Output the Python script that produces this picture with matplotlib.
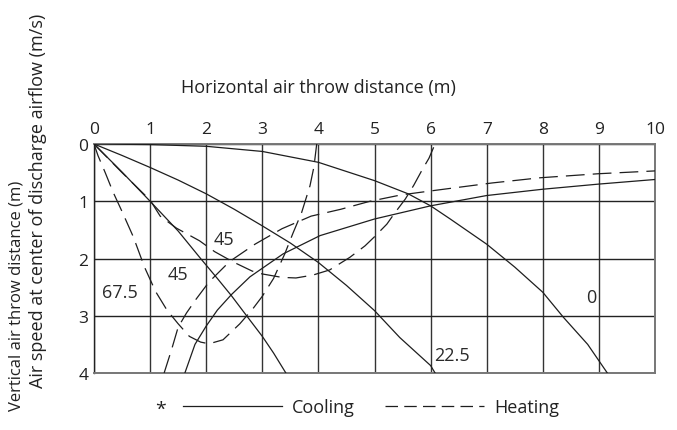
import matplotlib
matplotlib.use("Agg")
import matplotlib.pyplot as plt
from matplotlib.lines import Line2D

plt.rcParams['font.family'] = ['Open Sans', 'DejaVu Sans']

# Horizontal throw (m) vs vertical drop (m) for each louver angle
cool_0_x = [0, 1, 2, 3, 4, 5, 5.6, 6, 6.35, 7, 7.5, 8, 8.37, 8.8, 9.15]
cool_0_y = [0, 0.01, 0.04, 0.13, 0.32, 0.64, 0.87, 1.08, 1.31, 1.75, 2.15, 2.59, 3.03, 3.5, 4.0]

cool_22_x = [0, 0.5, 1, 1.5, 2, 2.5, 3, 3.5, 4, 4.5, 5, 5.45, 6, 6.08]
cool_22_y = [0, 0.2, 0.41, 0.63, 0.87, 1.14, 1.43, 1.73, 2.07, 2.47, 2.91, 3.38, 3.87, 4.0]

cool_45_x = [0, 0.5, 1, 1.5, 1.9, 2.2, 2.45, 2.72, 3.0, 3.2, 3.42]
cool_45_y = [0, 0.49, 1.0, 1.52, 2.0, 2.35, 2.65, 3.0, 3.36, 3.65, 4.0]

heat_45_x = [0, 0.5, 1, 1.18, 1.47, 1.88, 2.15, 2.48, 2.82, 3.0, 3.35, 3.6, 3.9, 4.2, 4.56, 4.83, 5.0, 5.22, 5.35, 5.55, 5.7, 5.85, 5.97, 6.08]
heat_45_y = [0, 0.5, 0.98, 1.26, 1.47, 1.69, 1.88, 2.06, 2.22, 2.27, 2.33, 2.34, 2.29, 2.2, 1.98, 1.78, 1.62, 1.4, 1.22, 0.96, 0.72, 0.45, 0.25, 0.0]

heat_67_x = [0, 0.07, 0.2, 0.34, 0.5, 0.7, 0.9, 1.1, 1.3, 1.5, 1.7, 1.9, 2.05, 2.3, 2.6, 2.83, 3.0, 3.2, 3.4, 3.55, 3.7, 3.85, 3.92, 3.97]
heat_67_y = [0, 0.2, 0.5, 0.84, 1.18, 1.62, 2.15, 2.58, 2.9, 3.14, 3.36, 3.46, 3.49, 3.42, 3.14, 2.88, 2.66, 2.35, 1.92, 1.55, 1.2, 0.73, 0.4, 0.0]

# Air speed at the centre of the discharge airflow (m/s) vs distance (m)
speed_cool_x = [1.62, 1.8, 2.0, 2.2, 2.45, 2.78, 3.37, 4.03, 5.0, 6.0, 7.0, 8.0, 9.0, 10.0]
speed_cool_y = [4.0, 3.5, 3.18, 2.9, 2.63, 2.32, 1.92, 1.6, 1.31, 1.08, 0.9, 0.79, 0.7, 0.62]

speed_heat_x = [1.25, 1.38, 1.5, 1.65, 1.82, 2.05, 2.42, 2.87, 3.35, 3.87, 4.4, 4.92, 5.47, 6.0, 7.1, 7.95, 8.98, 10.0]
speed_heat_y = [4.0, 3.6, 3.2, 2.95, 2.71, 2.41, 2.05, 1.75, 1.48, 1.26, 1.14, 1.0, 0.89, 0.82, 0.68, 0.59, 0.52, 0.47]

# Angle labels placed beside their curves
angle_labels = ["0", "22.5", "45", "45", "67.5"]
angle_label_x = [8.86, 6.38, 2.32, 1.49, 0.46]
angle_label_y = [2.67, 3.69, 1.66, 2.27, 2.59]

x_ticks = list(range(0, 11))
y_ticks = [0, 1, 2, 3, 4]

ink = "#1e1e1e"
text_col = "#222222"
dash = (0, (15, 6.5))

fig = plt.figure(figsize=(6.77, 4.31), dpi=100)
ax = fig.add_axes([94 / 677, 1 - 374 / 431, (655 - 94) / 677, (374 - 145) / 431])

ax.set_xlim(0, 10)
ax.set_ylim(4, 0)

for xv in x_ticks:
    ax.axvline(xv, color="#333333", lw=1.0, zorder=1)
for yv in y_ticks:
    ax.axhline(yv, color="#222222", lw=1.0, zorder=1)

lw = 0.9
ax.plot(cool_0_x, cool_0_y, color=ink, lw=lw, zorder=3)
ax.plot(cool_22_x, cool_22_y, color=ink, lw=lw, zorder=3)
ax.plot(cool_45_x, cool_45_y, color=ink, lw=lw, zorder=3)
ax.plot(speed_cool_x, speed_cool_y, color=ink, lw=lw, zorder=3)
ax.plot(heat_45_x, heat_45_y, color=ink, lw=lw, ls=dash, zorder=3)
ax.plot(heat_67_x, heat_67_y, color=ink, lw=lw, ls=dash, zorder=3)
ax.plot(speed_heat_x, speed_heat_y, color=ink, lw=lw, ls=dash, zorder=3)

for txt, lx, ly in zip(angle_labels, angle_label_x, angle_label_y):
    ax.text(lx, ly, txt, ha="center", va="center", fontsize=13, color="#2a2a2a", zorder=4)

ax.xaxis.tick_top()
ax.set_xticks(x_ticks)
ax.set_yticks(y_ticks)
ax.tick_params(axis="both", length=0, labelsize=12.5, colors=text_col)
ax.tick_params(axis="x", pad=5)
ax.tick_params(axis="y", pad=4)

for side, sp in ax.spines.items():
    sp.set_color("#777777")
    sp.set_linewidth(1.4)
ax.spines["left"].set_color("#222222")
ax.spines["left"].set_linewidth(1.0)

fig.text(318 / 677, 1 - 88 / 431, "Horizontal air throw distance (m)", ha="center", va="center",
         fontsize=13, color=text_col)
fig.text(17 / 677, 1 - 296 / 431, "Vertical air throw distance (m)", ha="center", va="center",
         rotation=90, fontsize=12, color=text_col)
fig.text(38 / 677, 1 - 201 / 431, "Air speed at center of discharge airflow (m/s)", ha="center",
         va="center", rotation=90, fontsize=13, color=text_col)

handles = [Line2D([], [], color=ink, lw=lw), Line2D([], [], color=ink, lw=lw, ls=(0, (10, 5)))]
fig.text(161 / 677, 1 - 410 / 431, "*", ha="center", va="center", fontsize=14, color=text_col)
fig.legend(handles, ["Cooling", "Heating"], ncol=2, frameon=False, fontsize=13,
           handlelength=5.5, columnspacing=1.66, handletextpad=0.55,
           loc="center", bbox_to_anchor=(371 / 677, 1 - 408 / 431), labelcolor=text_col)

fig.savefig("out.png", dpi=100)
